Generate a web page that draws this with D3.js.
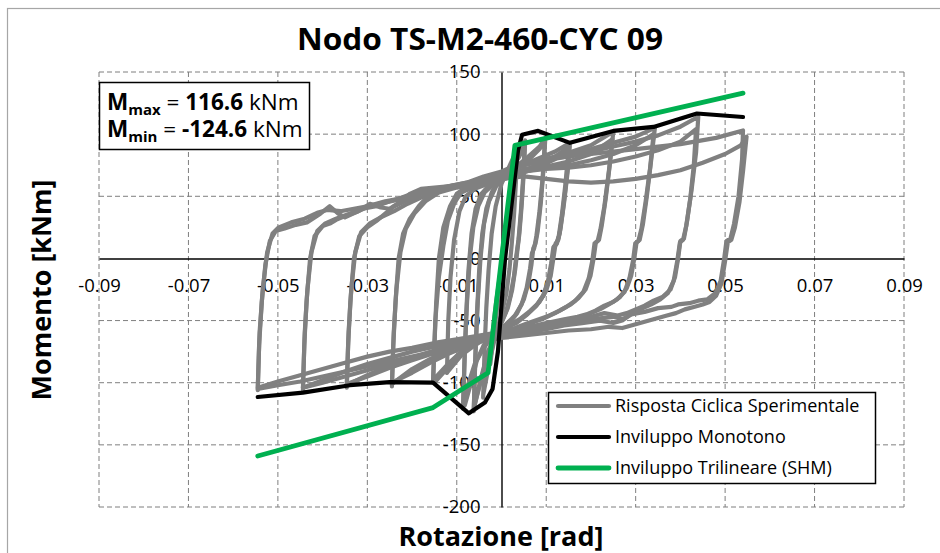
<!DOCTYPE html>
<html>
<head>
<meta charset="utf-8">
<script src="https://cdn.jsdelivr.net/npm/d3@7"></script>
<style>
  html, body { margin: 0; padding: 0; background: #fff; }
  svg { display: block; font-family: "Open Sans", "Noto Sans", sans-serif; }
</style>
</head>
<body>
<svg id="chart" width="940" height="553"></svg>
<script>
// ---- Testo ----
const titolo = "Nodo TS-M2-460-CYC 09";
const titoloX = "Rotazione [rad]";
const titoloY = "Momento [kNm]";
const voci = ["Risposta Ciclica Sperimentale", "Inviluppo Monotono", "Inviluppo Trilineare (SHM)"];
const Mmax = 116.6;
const Mmin = -124.6;

// ---- Assi ----
const xTicks = [-0.09, -0.07, -0.05, -0.03, -0.01, 0.01, 0.03, 0.05, 0.07, 0.09];
const xTickLabels = ["-0.09", "-0.07", "-0.05", "-0.03", "-0.01", "0.01", "0.03", "0.05", "0.07", "0.09"];
const yTicks = [-200, -150, -100, -50, 0, 50, 100, 150];
const yTickLabels = ["-200", "-150", "-100", "-50", "0", "50", "100", "150"];

// ---- Risposta ciclica sperimentale [rotazione, momento] ----
const ciclo0 = [[0,0],[0.0010,28],[0.0020,55],[0.0026,72],[0.0022,50],[0.0015,25],[0.0005,0],[-0.0005,-25],[-0.0015,-55],[-0.0025,-85],[-0.0020,-60],[-0.0012,-35],[0,-5],[0.0012,30],[0.0024,68]];
const ciclo1 = [[-0.0041,-112],[-0.0038,-75],[-0.0034,-40],[-0.0029,-10],[-0.0022,20],[-0.0013,42],[0,60],[0.0015,72],[0.0035,88],
  [0.0032,60],[0.0028,35],[0.0023,12],[0.0018,-8],[0.0011,-28],[0,-45],[-0.0012,-60],[-0.0025,-80],[-0.0041,-110]];
const ciclo2a = [[-0.0062,-123],[-0.0059,-85],[-0.0055,-45],[-0.0050,-10],[-0.0043,20],[-0.0034,40],[-0.0022,53],[-0.0008,62],[0,66],[0.002,74],[0.004,85],[0.0053,95],
  [0.0050,70],[0.0045,42],[0.0040,20],[0.0036,8],[0.0031,-8],[0.0024,-25],[0.0014,-40],[0,-52],[-0.0015,-62],[-0.003,-75],[-0.0045,-95],[-0.0062,-121]];
const ciclo2b = [[-0.0062,-121],[-0.0058,-75],[-0.0053,-35],[-0.0047,0],[-0.0039,28],[-0.0028,46],[-0.0012,58],[0,63],[0.002,71],[0.004,82],[0.0052,92],
  [0.0048,63],[0.0043,36],[0.0038,15],[0.0033,2],[0.0028,-14],[0.0020,-30],[0.0010,-43],[0,-51],[-0.0015,-62],[-0.003,-76],[-0.0045,-97],[-0.0060,-118]];
const ciclo3a = [[-0.0086,-121],[-0.0083,-85],[-0.0079,-45],[-0.0074,-10],[-0.0067,20],[-0.0058,40],[-0.0045,52],[-0.0030,58],[-0.0010,63],[0,66],[0.003,73],[0.006,82],[0.0085,90],[0.0098,97],
  [0.0094,72],[0.0088,45],[0.0081,22],[0.0076,12],[0.0071,8],[0.0067,-5],[0.0060,-20],[0.0050,-33],[0.0035,-44],[0.0020,-51],[0,-57],[-0.002,-63],[-0.004,-72],[-0.006,-85],[-0.0075,-102],[-0.0086,-120]];
const ciclo3b = [[-0.0086,-120],[-0.0082,-75],[-0.0077,-35],[-0.0071,0],[-0.0063,25],[-0.0052,42],[-0.0038,53],[-0.0020,59],[0,64],[0.003,70],[0.006,79],[0.0085,88],[0.0097,94],
  [0.0092,65],[0.0085,38],[0.0078,18],[0.0073,8],[0.0068,4],[0.0064,-8],[0.0056,-24],[0.0045,-37],[0.0030,-46],[0.0010,-53],[0,-56],[-0.002,-62],[-0.004,-70],[-0.0055,-82],[-0.0068,-100],[-0.0082,-118]];
const ciclo4a = [[-0.0153,-100],[-0.0150,-70],[-0.0146,-35],[-0.0140,0],[-0.0130,25],[-0.0115,42],[-0.0100,52],[-0.0080,57],[-0.0050,61],[-0.0020,64],[0,67],[0.004,74],[0.008,80],[0.012,86],[0.0153,93],
  [0.0148,70],[0.0140,45],[0.0132,24],[0.0127,15],[0.0121,12],[0.0116,0],[0.0110,-14],[0.0100,-26],[0.0085,-35],[0.0065,-42],[0.0040,-49],[0.0015,-54],[0,-57],[-0.003,-62],[-0.006,-68],[-0.009,-75],[-0.012,-85],[-0.0153,-98]];
const ciclo4b = [[-0.0153,-98],[-0.0148,-50],[-0.0140,-15],[-0.0130,10],[-0.0120,30],[-0.0105,45],[-0.0090,53],[-0.0060,58],[-0.0030,61],[0,64],[0.004,70],[0.008,75],[0.012,82],[0.0152,90],
  [0.0145,62],[0.0137,38],[0.0130,20],[0.0124,12],[0.0118,10],[0.0113,-3],[0.0106,-17],[0.0095,-29],[0.0080,-37],[0.0060,-44],[0.0035,-51],[0.0010,-56],[0,-58],[-0.003,-63],[-0.006,-70],[-0.009,-78],[-0.0122,-92]];
const ciclo4c = [[-0.0122,-92],[-0.0119,-50],[-0.0114,-15],[-0.0106,15],[-0.0094,38],[-0.0080,50],[-0.0060,56],[-0.0030,60],[0,63],[0.004,68],[0.008,73],[0.012,80],[0.0150,88],
  [0.0143,60],[0.0135,35],[0.0128,18],[0.0122,11],[0.0116,9],[0.0111,-4],[0.0104,-18],[0.0093,-30],[0.0078,-38],[0.0058,-45],[0.0033,-52],[0,-57],[-0.004,-64],[-0.008,-74],[-0.0120,-88],[-0.0150,-100]];
const ciclo5a = [[-0.0245,-103],[-0.0242,-70],[-0.0237,-35],[-0.0230,0],[-0.0220,20],[-0.0205,32],[-0.0185,42],[-0.0165,50],[-0.0140,55],[-0.0110,58],[-0.0080,60],[-0.0040,63],[0,67],[0.005,75],[0.010,80],[0.015,85],[0.020,91],[0.025,102],
  [0.0243,78],[0.0233,48],[0.0224,26],[0.0218,15],[0.0211,13],[0.0206,0],[0.0199,-14],[0.0188,-25],[0.0172,-32],[0.0155,-37],[0.0130,-42],[0.0100,-47],[0.0060,-52],[0.0030,-56],[0,-59],[-0.004,-63],[-0.008,-68],[-0.012,-74],[-0.016,-81],[-0.020,-89],[-0.0245,-101]];
const ciclo5b = [[-0.0245,-101],[-0.0241,-60],[-0.0235,-25],[-0.0226,5],[-0.0214,24],[-0.0195,36],[-0.0170,46],[-0.0140,53],[-0.0100,57],[-0.0060,60],[-0.0020,63],[0,64],[0.005,70],[0.010,74],[0.015,78],[0.020,84],[0.0248,96],
  [0.0240,70],[0.0230,42],[0.0221,23],[0.0215,14],[0.0208,12],[0.0203,-2],[0.0195,-16],[0.0183,-27],[0.0165,-34],[0.0145,-39],[0.0120,-44],[0.0090,-49],[0.0050,-54],[0.0020,-58],[0,-61],[-0.004,-65],[-0.008,-71],[-0.012,-77],[-0.016,-84],[-0.020,-92],[-0.0245,-100]];
const ciclo6a = [[-0.0346,-104],[-0.0343,-70],[-0.0338,-35],[-0.0330,0],[-0.0318,18],[-0.0300,25],[-0.0280,30],[-0.0260,36],[-0.0240,42],[-0.0210,47],[-0.0180,52],[-0.0150,55],[-0.0110,58],[-0.0070,61],[-0.0030,65],[0,68],[0.005,76],[0.010,80],[0.015,84],[0.020,88],[0.025,93],[0.030,98],[0.0343,105],
  [0.0335,80],[0.0325,50],[0.0316,27],[0.0309,15],[0.0302,13],[0.0297,0],[0.0290,-14],[0.0280,-24],[0.0265,-31],[0.0250,-35],[0.0230,-38],[0.0210,-42],[0.0190,-45],[0.0170,-47],[0.0140,-49],[0.0100,-52],[0.0050,-56],[0,-60],[-0.005,-64],[-0.010,-69],[-0.015,-74],[-0.020,-80],[-0.025,-86],[-0.030,-94],[-0.0346,-102]];
const ciclo6b = [[-0.0346,-102],[-0.0342,-60],[-0.0336,-25],[-0.0327,5],[-0.0314,21],[-0.0295,28],[-0.0270,33],[-0.0240,38],[-0.0210,44],[-0.0180,49],[-0.0150,53],[-0.0110,57],[-0.0070,60],[-0.0030,63],[0,65],[0.005,70],[0.010,73],[0.015,75],[0.020,79],[0.025,84],[0.030,91],[0.0340,100],
  [0.0332,72],[0.0322,45],[0.0313,24],[0.0306,14],[0.0299,12],[0.0294,-2],[0.0286,-16],[0.0275,-27],[0.0258,-33],[0.0240,-37],[0.0220,-41],[0.0200,-44],[0.0180,-47],[0.0150,-50],[0.0120,-53],[0.0080,-56],[0.0040,-59],[0,-62],[-0.005,-66],[-0.010,-71],[-0.015,-76],[-0.020,-82],[-0.025,-88],[-0.030,-95],[-0.0346,-101]];
const ciclo7a = [[-0.0444,-106],[-0.0441,-70],[-0.0436,-35],[-0.0428,0],[-0.0418,18],[-0.0400,26],[-0.0384,28],[-0.0370,31],[-0.0350,34],[-0.0320,38],[-0.0290,43],[-0.0260,46],[-0.0230,48],[-0.0200,52],[-0.0160,55],[-0.0120,58],[-0.0080,60],[-0.0040,64],[0,68],[0.005,75],[0.010,79],[0.015,82],[0.020,86],[0.025,90],[0.030,94],[0.035,99],[0.040,106],[0.044,114],
  [0.0435,85],[0.0425,55],[0.0415,30],[0.0408,16],[0.0400,14],[0.0395,0],[0.0388,-15],[0.0378,-25],[0.0360,-31],[0.0340,-34],[0.0320,-38],[0.0300,-41],[0.0280,-44],[0.0260,-46],[0.0230,-44],[0.0200,-47],[0.0150,-50],[0.0100,-53],[0.0050,-56],[0,-60],[-0.005,-63],[-0.010,-67],[-0.015,-71],[-0.020,-75],[-0.025,-80],[-0.030,-85],[-0.035,-91],[-0.040,-98],[-0.0444,-104]];
const ciclo7b = [[-0.0444,-104],[-0.0440,-60],[-0.0434,-25],[-0.0425,5],[-0.0412,22],[-0.0395,28],[-0.0370,32],[-0.0340,36],[-0.0310,40],[-0.0280,42],[-0.0250,46],[-0.0210,50],[-0.0170,54],[-0.0130,57],[-0.0090,60],[-0.0050,63],[0,66],[0.005,70],[0.010,72],[0.015,73],[0.020,75],[0.025,78],[0.030,82],[0.035,87],[0.040,94],[0.0435,104],
  [0.0430,75],[0.0422,48],[0.0413,26],[0.0406,15],[0.0399,13],[0.0393,-2],[0.0385,-18],[0.0372,-28],[0.0355,-33],[0.0335,-37],[0.0310,-41],[0.0290,-45],[0.0270,-50],[0.0250,-52],[0.0220,-50],[0.0180,-52],[0.0140,-54],[0.0100,-57],[0.0050,-60],[0,-63],[-0.005,-67],[-0.010,-71],[-0.015,-75],[-0.020,-80],[-0.025,-85],[-0.030,-90],[-0.035,-95],[-0.040,-100],[-0.0444,-104]];
const ciclo8a = [[-0.0545,-106],[-0.0542,-70],[-0.0536,-35],[-0.0528,-5],[-0.0518,14],[-0.0505,22],[-0.0485,24],[-0.0460,27],[-0.0435,29],[-0.0405,36],[-0.0384,42],[-0.0365,36],[-0.0350,33],[-0.0320,38],[-0.0294,44],[-0.0270,41],[-0.0250,40],[-0.0220,47],[-0.0205,52],[-0.0180,56],[-0.0120,58],[-0.0078,61],[-0.0040,66],[0,70],[0.004,76],[0.010,80],[0.020,84],[0.030,88],[0.040,92],[0.048,97],[0.054,103],
  [0.0538,80],[0.0530,50],[0.0520,28],[0.0512,16],[0.0503,14],[0.0498,0],[0.0490,-18],[0.0478,-28],[0.0460,-33],[0.0440,-34],[0.0420,-36],[0.0395,-37],[0.0380,-39],[0.0350,-40],[0.0320,-43],[0.0290,-45],[0.0270,-49],[0.0250,-47],[0.0200,-49],[0.0150,-51],[0.0100,-53],[0.0050,-56],[0,-59],[-0.005,-62],[-0.010,-65],[-0.015,-68],[-0.020,-72],[-0.025,-75],[-0.030,-79],[-0.035,-84],[-0.040,-89],[-0.045,-94],[-0.050,-99],[-0.0545,-104]];
const ciclo8b = [[-0.0545,-104],[-0.0541,-60],[-0.0534,-25],[-0.0524,5],[-0.0512,20],[-0.0498,25],[-0.0470,29],[-0.0440,32],[-0.0410,37],[-0.0390,39],[-0.0360,38],[-0.0330,40],[-0.0300,42],[-0.0260,45],[-0.0220,48],[-0.0190,53],[-0.0150,55],[-0.0100,58],[-0.0050,62],[0,64],[0.005,66],[0.010,64],[0.015,62],[0.020,61],[0.025,62],[0.030,64],[0.035,67],[0.040,71],[0.045,77],[0.050,84],[0.0535,91],[0.0548,98],
  [0.0540,70],[0.0532,45],[0.0522,25],[0.0514,15],[0.0506,13],[0.0500,-2],[0.0492,-20],[0.0480,-30],[0.0465,-35],[0.0450,-37],[0.0430,-39],[0.0410,-41],[0.0390,-44],[0.0370,-46],[0.0350,-48],[0.0330,-50],[0.0300,-53],[0.0270,-56],[0.0240,-55],[0.0200,-57],[0.0150,-58],[0.0100,-60],[0.0050,-62],[0,-64],[-0.005,-67],[-0.010,-71],[-0.015,-75],[-0.020,-79],[-0.025,-83],[-0.030,-87],[-0.035,-91],[-0.040,-95],[-0.045,-99],[-0.050,-102],[-0.0545,-105]];
const cicli = [ciclo0, ciclo1, ciclo2a, ciclo2b, ciclo3a, ciclo3b, ciclo4a, ciclo4b, ciclo4c,
               ciclo5a, ciclo5b, ciclo6a, ciclo6b, ciclo7a, ciclo7b, ciclo8a, ciclo8b];

// ---- Inviluppo monotono ----
const monotono = [[-0.0545,-111.5],[-0.0444,-108],[-0.0339,-102],[-0.025,-99.5],[-0.0153,-100],[-0.0073,-124.6],[-0.0037,-116],
  [-0.0020,-105],[-0.0008,-75],[0.0008,0],[0.0037,87],[0.0046,99.5],[0.0082,102.6],[0.0153,93],[0.025,102.6],[0.034,105.8],[0.0437,116.6],[0.054,113.8]];

// ---- Inviluppo trilineare (SHM) ----
const trilineare = [[-0.0545,-159],[-0.0153,-120],[-0.0030,-92],[0.0030,91],[0.054,133]];

// ---- Disegno ----
const svg = d3.select("#chart");
const W = 940, H = 553;
const plot = { left: 99, right: 904, top: 72, bottom: 507 };

const x = d3.scaleLinear().domain([-0.09, 0.09]).range([plot.left, plot.right]);
const y = d3.scaleLinear().domain([-200, 150]).range([plot.bottom, plot.top]);

svg.append("rect").attr("width", W).attr("height", H).attr("fill", "#fff");
// cornice esterna
svg.append("rect").attr("x", 7.5).attr("y", 8.5).attr("width", 1000).attr("height", 1000)
  .attr("fill", "none").attr("stroke", "#a6a6a6").attr("stroke-width", 1.2);

// griglia tratteggiata
const grid = svg.append("g").attr("stroke", "#7f7f7f").attr("stroke-width", 1).attr("stroke-dasharray", "5,3");
grid.selectAll("line.gx").data(xTicks).join("line")
  .attr("x1", d => x(d)).attr("x2", d => x(d)).attr("y1", plot.top).attr("y2", plot.bottom);
grid.selectAll("line.gy").data(yTicks.filter(d => d !== 0)).join("line")
  .attr("x1", plot.left).attr("x2", plot.right).attr("y1", d => y(d)).attr("y2", d => y(d));

// assi
const axX = svg.append("g").attr("transform", `translate(0,${y(0)})`)
  .call(d3.axisBottom(x).tickValues(xTicks).tickFormat((d, i) => xTickLabels[i]).tickSize(0).tickPadding(20));
axX.select(".domain").attr("stroke", "#000").attr("stroke-width", 1.4);
axX.selectAll("text").attr("font-size", 18.5).attr("fill", "#000").attr("font-family", "Open Sans");

const axY = svg.append("g").attr("transform", `translate(${x(0)},0)`)
  .call(d3.axisLeft(y).tickValues(yTicks).tickFormat((d, i) => yTickLabels[i]).tickSize(0).tickPadding(21));
axY.select(".domain").attr("stroke", "#000").attr("stroke-width", 1.4);
axY.selectAll("text").attr("font-size", 18.5).attr("fill", "#000").attr("font-family", "Open Sans");

// curve
const line = d3.line().x(d => x(d[0])).y(d => y(d[1]));
const curves = svg.append("g").attr("fill", "none").attr("stroke-linejoin", "round").attr("stroke-linecap", "round");
curves.selectAll("path.ciclo").data(cicli).join("path")
  .attr("class", "ciclo").attr("d", line).attr("stroke", "#808080").attr("stroke-width", 4.2);
curves.append("path").datum(monotono).attr("d", line).attr("stroke", "#000").attr("stroke-width", 4.2);
curves.append("path").datum(trilineare).attr("d", line).attr("stroke", "#00b050").attr("stroke-width", 4.8);

// titoli
svg.append("text").attr("x", 480).attr("y", 50).attr("text-anchor", "middle")
  .attr("font-size", 31).attr("font-weight", "bold").attr("textLength", 366).attr("lengthAdjust", "spacingAndGlyphs")
  .text(titolo);
svg.append("text").attr("x", 501).attr("y", 546).attr("text-anchor", "middle")
  .attr("font-size", 27).attr("font-weight", "bold").text(titoloX);
svg.append("text").attr("transform", "translate(51,290) rotate(-90)").attr("text-anchor", "middle")
  .attr("font-size", 27).attr("font-weight", "bold").text(titoloY);

// riquadro Mmax / Mmin
const box = svg.append("g");
box.append("rect").attr("x", 99.5).attr("y", 82.5).attr("width", 210).attr("height", 67)
  .attr("fill", "#fff").attr("stroke", "#000").attr("stroke-width", 1.5);
const righe = [["max", Mmax], ["min", Mmin]];
righe.forEach((r, i) => {
  const t = box.append("text").attr("x", 107).attr("y", 110 + i * 27).attr("font-size", 22.5);
  t.append("tspan").attr("font-weight", "bold").text("M");
  t.append("tspan").attr("font-weight", "bold").attr("font-size", 15).attr("dy", 5).text(r[0]);
  t.append("tspan").attr("dy", -5).text(" = ");
  t.append("tspan").attr("font-weight", "bold").text(r[1].toFixed(1));
  t.append("tspan").text(" kNm");
});

// legenda
const leg = svg.append("g");
leg.append("rect").attr("x", 548.5).attr("y", 392.5).attr("width", 327).attr("height", 91)
  .attr("fill", "#fff").attr("stroke", "#000").attr("stroke-width", 1.5);
const legStyle = [["#808080", 4.2], ["#000", 4.2], ["#00b050", 4.8]];
const legY = [406, 437, 468];
voci.forEach((v, i) => {
  leg.append("line").attr("x1", 558).attr("x2", 609).attr("y1", legY[i]).attr("y2", legY[i])
    .attr("stroke", legStyle[i][0]).attr("stroke-width", legStyle[i][1]).attr("stroke-linecap", "round");
  leg.append("text").attr("x", 615).attr("y", legY[i]).attr("dy", "0.35em").attr("font-size", 18).text(v);
});
</script>
</body>
</html>
